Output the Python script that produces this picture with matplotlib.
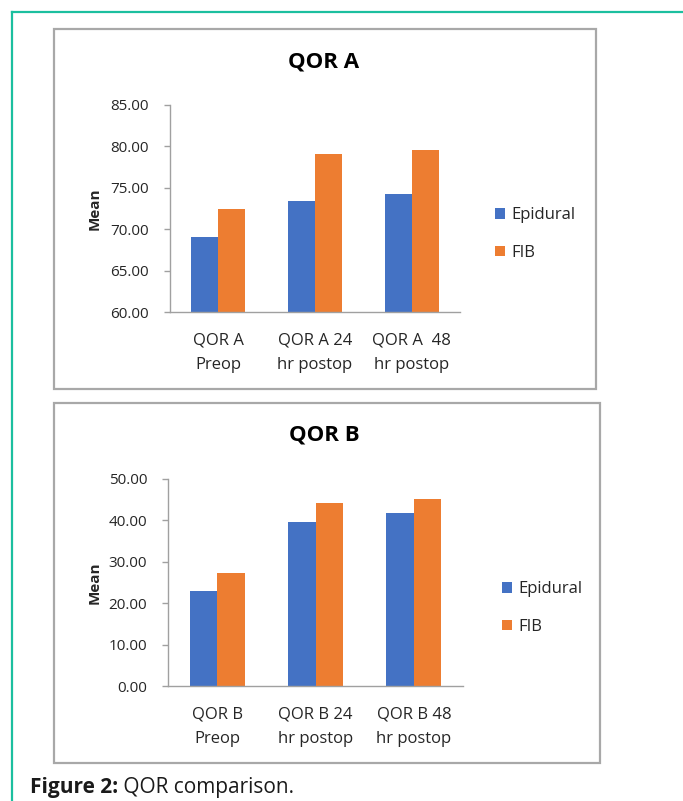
import numpy as np
import matplotlib
matplotlib.use("Agg")
from matplotlib import pyplot as plt
from matplotlib.patches import Rectangle
from matplotlib.lines import Line2D

# QOR scores (mean) per group
series_names = ["Epidural", "FIB"]
qor_a_labels = ["QOR A\nPreop", "QOR A 24\nhr postop", "QOR A  48\nhr postop"]
qor_a_epidural = [69.0, 73.4, 74.3]
qor_a_fib = [72.4, 79.1, 79.6]
qor_b_labels = ["QOR B\nPreop", "QOR B 24\nhr postop", "QOR B 48\nhr postop"]
qor_b_epidural = [23.0, 39.7, 41.7]
qor_b_fib = [27.2, 44.3, 45.1]
qor_a_ticks = [60, 65, 70, 75, 80, 85]
qor_b_ticks = [0, 10, 20, 30, 40, 50]

BLUE = "#4472C4"
ORANGE = "#ED7D31"
AXIS_GREY = "#a0a0a0"
TEXT = "#262626"

W, H = 683, 801
plt.rcParams["font.family"] = ["Open Sans", "DejaVu Sans"]

fig = plt.figure(figsize=(W / 100, H / 100), dpi=100)


def px_rect(x0, y0, x1, y1):
    # pixel box (top-left origin) -> figure fraction [left, bottom, width, height]
    return [x0 / W, 1 - y1 / H, (x1 - x0) / W, (y1 - y0) / H]


def bar_panel(rect, title, title_y, labels, epi, fib, ticks, legend_xy, ylab_x):
    ax = fig.add_axes(rect)
    x = np.arange(len(labels))
    width = 0.28
    ax.bar(x - width / 2, epi, width, color=BLUE, label=series_names[0])
    ax.bar(x + width / 2, fib, width, color=ORANGE, label=series_names[1])
    ax.set_xlim(-0.5, len(labels) - 0.5)
    ax.set_ylim(ticks[0], ticks[-1])
    ax.set_yticks(ticks)
    ax.set_yticklabels(["%.2f" % t for t in ticks])
    ax.set_xticks(x)
    ax.set_xticklabels(labels, linespacing=1.7)
    for side in ("top", "right"):
        ax.spines[side].set_visible(False)
    for side in ("left", "bottom"):
        ax.spines[side].set_color(AXIS_GREY)
        ax.spines[side].set_linewidth(1.0)
    ax.tick_params(axis="y", length=4, width=1.0, color=AXIS_GREY,
                   labelsize=11, labelcolor=TEXT, pad=11)
    ax.tick_params(axis="x", length=0, labelsize=12, labelcolor=TEXT, pad=15)
    ax.set_ylabel("Mean", fontsize=11, fontweight="bold", color=TEXT)
    ax.yaxis.set_label_coords(ylab_x, 0.5)
    fig.text(324 / W, 1 - title_y / H, title, ha="center", va="center",
             fontsize=16, fontweight="bold", color="black")
    ax.legend(loc="center left", bbox_to_anchor=legend_xy,
              bbox_transform=fig.transFigure, frameon=False,
              handlelength=0.6, handleheight=0.6, handletextpad=0.4,
              labelspacing=1.3, fontsize=12, labelcolor=TEXT)
    return ax


# outer figure frame
fig.add_artist(Line2D([12 / W, 1], [1 - 12 / H, 1 - 12 / H], color="#1cbf9f",
                      lw=1.6, transform=fig.transFigure))
fig.add_artist(Line2D([12 / W, 12 / W], [1 - 12 / H, 0], color="#1cbf9f",
                      lw=1.6, transform=fig.transFigure))

# chart boxes
for box in ((54, 29, 596, 389), (54, 403, 600, 763)):
    r = px_rect(*box)
    fig.add_artist(Rectangle((r[0], r[1]), r[2], r[3], fill=False,
                             ec="#a8a8a8", lw=1.6, transform=fig.transFigure))

bar_panel(px_rect(170, 105, 460, 312), "QOR A", 62, qor_a_labels,
          qor_a_epidural, qor_a_fib, qor_a_ticks,
          (480 / W, 1 - 234 / H), -0.235)
bar_panel(px_rect(168, 479, 463, 686), "QOR B", 435, qor_b_labels,
          qor_b_epidural, qor_b_fib, qor_b_ticks,
          (487 / W, 1 - 608 / H), -0.225)

# caption: bold label followed by regular text
cap = fig.text(30 / W, 1 - 787 / H, "Figure 2:", ha="left", va="center",
               fontsize=15, fontweight="bold", color="#1a1a1a")
fig.add_artist(plt.Annotation(" QOR comparison.", xy=(1, 0), xycoords=cap,
                              ha="left", va="bottom", fontsize=15,
                              color="#1a1a1a"))

fig.savefig("out.png", dpi=100)
